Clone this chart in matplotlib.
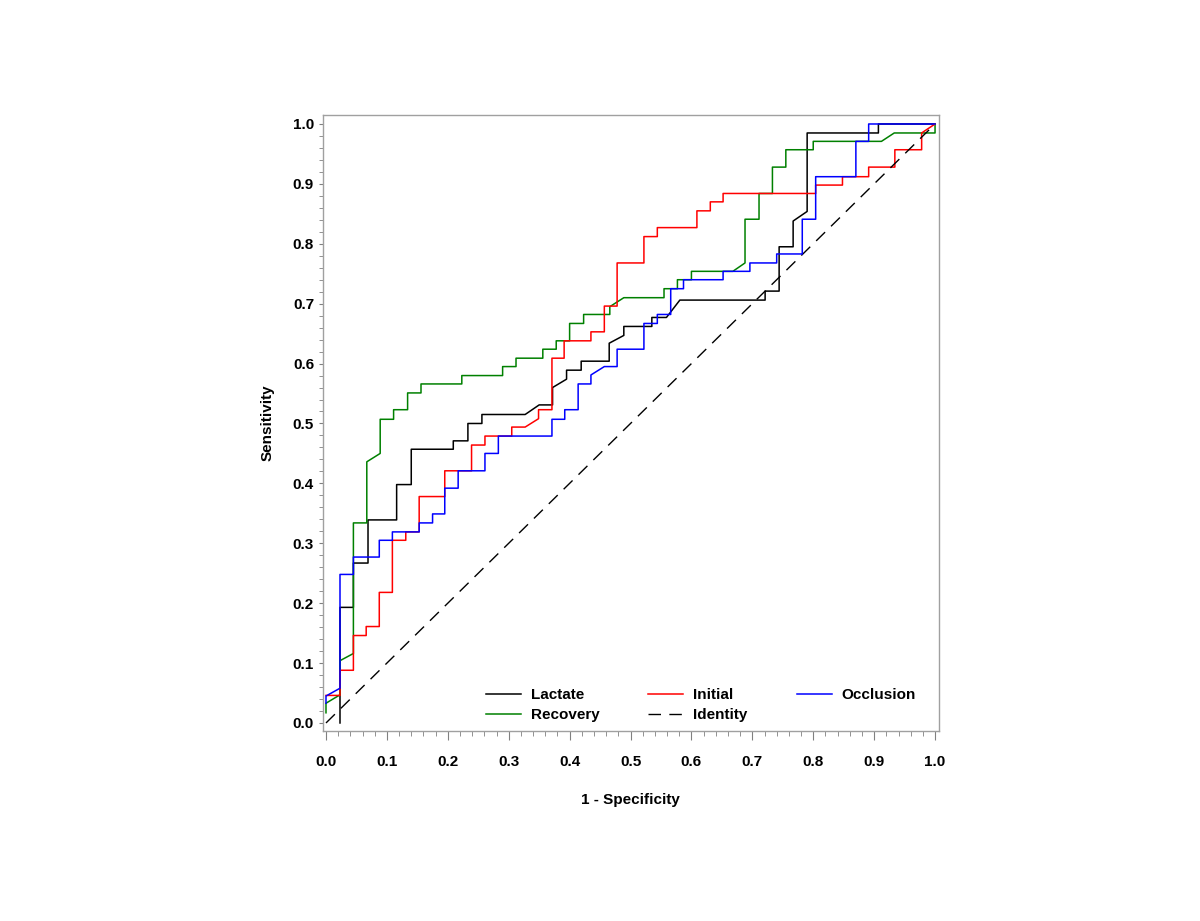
import numpy as np
import matplotlib
matplotlib.use("Agg")
import matplotlib.pyplot as plt
from matplotlib.ticker import MultipleLocator

plt.rcParams['font.family'] = ['Liberation Sans', 'DejaVu Sans']
plt.rcParams['font.weight'] = 'bold'

# ROC vertices (1 - specificity, sensitivity)
lactate_x = [0.023, 0.023, 0.045, 0.045, 0.069, 0.069, 0.116, 0.116, 0.140, 0.140,
             0.209, 0.209, 0.233, 0.233, 0.256, 0.256, 0.327, 0.350, 0.372, 0.372,
             0.395, 0.395, 0.419, 0.419, 0.465, 0.465, 0.489, 0.489, 0.535, 0.535,
             0.559, 0.581, 0.721, 0.721, 0.744, 0.744, 0.767, 0.767, 0.790, 0.790,
             0.907, 0.907, 1.0]
lactate_y = [0.0, 0.193, 0.193, 0.267, 0.267, 0.339, 0.339, 0.398, 0.398, 0.457,
             0.457, 0.471, 0.471, 0.500, 0.500, 0.515, 0.515, 0.531, 0.531, 0.560,
             0.574, 0.589, 0.589, 0.604, 0.604, 0.634, 0.647, 0.662, 0.662, 0.677,
             0.677, 0.706, 0.706, 0.721, 0.721, 0.795, 0.795, 0.838, 0.854, 0.985,
             0.985, 1.0, 1.0]

initial_x = [0.0, 0.023, 0.023, 0.045, 0.045, 0.066, 0.066, 0.0875, 0.0875, 0.109,
             0.109, 0.131, 0.131, 0.153, 0.153, 0.195, 0.195, 0.239, 0.239, 0.261,
             0.261, 0.305, 0.305, 0.327, 0.349, 0.349, 0.371, 0.371, 0.391, 0.391,
             0.435, 0.435, 0.457, 0.457, 0.478, 0.478, 0.522, 0.522, 0.544, 0.544,
             0.609, 0.609, 0.631, 0.631, 0.652, 0.652, 0.804, 0.804, 0.848, 0.848,
             0.891, 0.891, 0.934, 0.934, 0.978, 0.978, 1.0]
initial_y = [0.046, 0.046, 0.088, 0.088, 0.146, 0.146, 0.161, 0.161, 0.218, 0.218,
             0.305, 0.305, 0.319, 0.319, 0.378, 0.378, 0.421, 0.421, 0.464, 0.464,
             0.479, 0.479, 0.494, 0.494, 0.508, 0.523, 0.523, 0.609, 0.609, 0.638,
             0.638, 0.653, 0.653, 0.696, 0.696, 0.768, 0.768, 0.812, 0.812, 0.827,
             0.827, 0.855, 0.855, 0.870, 0.870, 0.884, 0.884, 0.898, 0.898, 0.912,
             0.912, 0.928, 0.928, 0.957, 0.957, 0.985, 1.0]

recovery_x = [0.0, 0.0, 0.023, 0.023, 0.045, 0.045, 0.067, 0.067, 0.089, 0.089,
              0.111, 0.111, 0.134, 0.134, 0.156, 0.156, 0.223, 0.223, 0.290, 0.290,
              0.312, 0.312, 0.356, 0.356, 0.378, 0.378, 0.400, 0.400, 0.423, 0.423,
              0.466, 0.466, 0.489, 0.555, 0.555, 0.577, 0.577, 0.600, 0.600, 0.668,
              0.688, 0.688, 0.711, 0.711, 0.733, 0.733, 0.755, 0.755, 0.800, 0.800,
              0.912, 0.933, 1.0, 1.0]
recovery_y = [0.017, 0.033, 0.047, 0.104, 0.116, 0.334, 0.334, 0.436, 0.450, 0.507,
              0.507, 0.523, 0.523, 0.551, 0.551, 0.566, 0.566, 0.580, 0.580, 0.595,
              0.595, 0.609, 0.609, 0.624, 0.624, 0.638, 0.638, 0.667, 0.667, 0.682,
              0.682, 0.695, 0.710, 0.710, 0.725, 0.725, 0.740, 0.740, 0.754, 0.754,
              0.768, 0.841, 0.841, 0.884, 0.884, 0.928, 0.928, 0.957, 0.957, 0.971,
              0.971, 0.985, 0.985, 1.0]

occlusion_x = [0.0, 0.0, 0.023, 0.023, 0.045, 0.045, 0.0875, 0.0875, 0.109, 0.109,
               0.153, 0.153, 0.175, 0.175, 0.195, 0.195, 0.217, 0.217, 0.261, 0.261,
               0.283, 0.283, 0.371, 0.371, 0.392, 0.392, 0.414, 0.414, 0.435, 0.435,
               0.457, 0.478, 0.478, 0.522, 0.522, 0.544, 0.544, 0.566, 0.566, 0.587,
               0.587, 0.652, 0.652, 0.696, 0.696, 0.740, 0.740, 0.782, 0.782, 0.804,
               0.804, 0.870, 0.870, 0.891, 0.891, 1.0]
occlusion_y = [0.033, 0.045, 0.058, 0.248, 0.248, 0.277, 0.277, 0.305, 0.305, 0.319,
               0.319, 0.334, 0.334, 0.349, 0.349, 0.392, 0.392, 0.421, 0.421, 0.450,
               0.450, 0.479, 0.479, 0.507, 0.507, 0.523, 0.523, 0.566, 0.566, 0.581,
               0.595, 0.595, 0.624, 0.624, 0.667, 0.667, 0.682, 0.682, 0.725, 0.725,
               0.740, 0.740, 0.754, 0.754, 0.768, 0.768, 0.783, 0.783, 0.841, 0.841,
               0.912, 0.912, 0.971, 0.971, 1.0, 1.0]

identity_x = [0.0, 1.0]
identity_y = [0.0, 1.0]

fig = plt.figure(figsize=(12, 9.21), dpi=100)
ax = fig.add_axes([322.7/1200, 1-731/921, 616/1200, 616/921])

lw = 1.1
ax.plot(lactate_x, lactate_y, color='black', lw=lw, label='Lactate')
ax.plot(recovery_x, recovery_y, color='#008000', lw=lw, label='Recovery')
ax.plot(initial_x, initial_y, color='#FF0000', lw=lw, label='Initial')
ax.plot(identity_x, identity_y, color='black', lw=1.0, dashes=(9, 6), label='Identity')
ax.plot(occlusion_x, occlusion_y, color='#0000FF', lw=lw, label='Occlusion')

ax.set_xlim(-0.0054, 1.006)
ax.set_ylim(-0.0134, 1.015)

ax.xaxis.set_major_locator(MultipleLocator(0.1))
ax.xaxis.set_minor_locator(MultipleLocator(0.02))
ax.yaxis.set_major_locator(MultipleLocator(0.1))
ax.yaxis.set_minor_locator(MultipleLocator(0.02))
ax.xaxis.set_major_formatter(lambda v, p: f"{v:.1f}")
ax.yaxis.set_major_formatter(lambda v, p: f"{v:.1f}")

for s in ax.spines.values():
    s.set_color('#A0A0A0')
    s.set_linewidth(1.0)
ax.tick_params(which='both', direction='out', color='#808080', labelsize=11)
ax.tick_params(axis='x', which='major', length=6.5, pad=11)
ax.tick_params(axis='x', which='minor', length=3.3)
ax.tick_params(axis='y', which='both', length=3.2, pad=3)

ax.set_xlabel('1 - Specificity', fontsize=11, fontweight='bold', labelpad=17)
ax.set_ylabel('Sensitivity', fontsize=11, fontweight='bold', labelpad=13)

ax.legend(ncol=3, loc='lower left', bbox_to_anchor=(0.242, -0.008), frameon=False,
          fontsize=11, handlelength=2.3, handletextpad=0.65, columnspacing=3.2,
          labelspacing=0.41)

fig.savefig('out.png', dpi=100)
